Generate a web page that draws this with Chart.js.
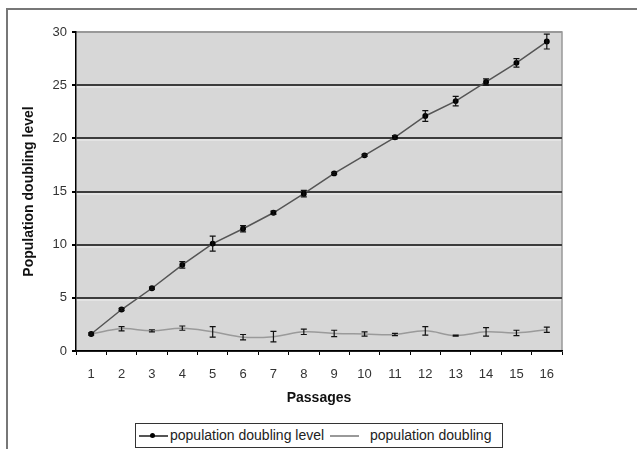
<!DOCTYPE html>
<html>
<head>
<meta charset="utf-8">
<script src="https://cdn.jsdelivr.net/npm/chart.js@4.4.0/dist/chart.umd.min.js"></script>
<style>
body { margin: 0; background: #fff; font-family: "Liberation Sans", Arial, sans-serif; }
#wrap { position: relative; width: 637px; height: 449px; overflow: hidden; background: #fff; }
#frame { position: absolute; left: 6px; top: 8px; width: 660px; height: 470px; border: 2px solid #777; box-sizing: border-box; }
canvas { position: absolute; left: 0; top: 0; }
#legend { position: absolute; left: 135px; top: 423px; width: 368px; height: 25px; border: 1.5px solid #333; box-sizing: border-box; font-size: 14px; color: #222; background: #fff; }
#legend .ln { position: absolute; top: 11px; height: 1.5px; width: 29px; }
#legend .dot { position: absolute; top: 9px; width: 5px; height: 5px; border-radius: 50%; background: #000; }
#legend .tx { position: absolute; top: 3px; white-space: nowrap; }
</style>
</head>
<body>
<div id="wrap">
  <div id="frame"></div>
  <canvas id="chart" width="637" height="449"></canvas>
  <div id="legend">
    <span class="ln" style="left:3px;background:#555"></span>
    <span class="dot" style="left:14px"></span>
    <span class="tx" style="left:34px">population doubling level</span>
    <span class="ln" style="left:194px;background:#999"></span>
    <span class="tx" style="left:234px">population doubling</span>
  </div>
</div>
<script>
// passages (x axis)
var passages = ['1', '2', '3', '4', '5', '6', '7', '8', '9', '10', '11', '12', '13', '14', '15', '16'];

// cumulative population doubling level + error
var doublingLevel = [1.6, 3.9, 5.9, 8.1, 10.1, 11.5, 13.0, 14.8, 16.7, 18.4, 20.1, 22.1, 23.5, 25.3, 27.1, 29.1];
var doublingLevelErr = [0.1, 0.1, 0.1, 0.3, 0.7, 0.3, 0.15, 0.3, 0.1, 0.1, 0.15, 0.5, 0.45, 0.3, 0.4, 0.7];

// population doubling per passage + error
var doubling = [1.6, 2.1, 1.9, 2.15, 1.8, 1.3, 1.35, 1.8, 1.65, 1.6, 1.55, 1.9, 1.45, 1.8, 1.7, 2.0];
var doublingErr = [0, 0.2, 0.1, 0.2, 0.5, 0.25, 0.5, 0.25, 0.3, 0.2, 0.1, 0.4, 0.05, 0.4, 0.25, 0.25];

var yTicks = [0, 5, 10, 15, 20, 25, 30];

// grey plot area like the excel chart
var plotBg = {
    id: 'plotBg',
    beforeDraw: function(chart) {
        var ctx = chart.ctx, a = chart.chartArea, y = chart.scales.y;
        ctx.save();
        ctx.fillStyle = '#d7d7d7';
        ctx.fillRect(a.left, a.top, a.right - a.left, a.bottom - a.top);
        // light line under each grid line
        ctx.strokeStyle = '#f0f0f0';
        ctx.lineWidth = 1;
        yTicks.forEach(function(v) {
            if (v === 0 || v === 30) return;
            var py = Math.round(y.getPixelForValue(v)) + 2;
            ctx.beginPath();
            ctx.moveTo(a.left, py);
            ctx.lineTo(a.right, py);
            ctx.stroke();
        });
        ctx.strokeStyle = '#999';
        ctx.lineWidth = 1.5;
        ctx.beginPath();
        ctx.moveTo(a.left, a.top);
        ctx.lineTo(a.right, a.top);
        ctx.lineTo(a.right, a.bottom);
        ctx.stroke();
        ctx.restore();
    }
};

// error bars drawn from the arrays through the scales
var errorBars = {
    id: 'errorBars',
    afterDatasetsDraw: function(chart) {
        var ctx = chart.ctx, x = chart.scales.x, y = chart.scales.y;
        var sets = [[doublingLevel, doublingLevelErr], [doubling, doublingErr]];
        ctx.save();
        ctx.strokeStyle = '#111';
        ctx.lineWidth = 1.2;
        sets.forEach(function(s) {
            s[0].forEach(function(v, i) {
                var e = s[1][i];
                if (!e) return;
                var px = x.getPixelForValue(i);
                var y1 = y.getPixelForValue(v - e), y2 = y.getPixelForValue(v + e);
                ctx.beginPath();
                ctx.moveTo(px, y1); ctx.lineTo(px, y2);
                ctx.moveTo(px - 3, y1); ctx.lineTo(px + 3, y1);
                ctx.moveTo(px - 3, y2); ctx.lineTo(px + 3, y2);
                ctx.stroke();
            });
        });
        ctx.restore();
    }
};

var ctx = document.getElementById('chart').getContext('2d');
new Chart(ctx, {
    type: 'line',
    data: {
        labels: passages,
        datasets: [{
            label: 'population doubling level',
            data: doublingLevel,
            borderColor: '#555',
            borderWidth: 1.5,
            pointBackgroundColor: '#000',
            pointBorderColor: '#000',
            pointRadius: 2.2,
            pointStyle: 'circle',
            tension: 0
        }, {
            label: 'population doubling',
            data: doubling,
            borderColor: '#9a9a9a',
            borderWidth: 1.5,
            pointRadius: 0,
            tension: 0.4
        }]
    },
    options: {
        responsive: false,
        devicePixelRatio: 1,
        animation: false,
        layout: { padding: { left: 0, right: 75, top: 32, bottom: 0 } },
        plugins: {
            legend: { display: false },
            tooltip: { enabled: false }
        },
        scales: {
            x: {
                offset: true,
                grid: { offset: true, drawOnChartArea: false, drawTicks: true, tickLength: 4, color: '#000' },
                border: { color: '#000', width: 1.5 },
                ticks: { color: '#333', font: { family: 'Liberation Sans', size: 13 }, padding: 12, maxRotation: 0 },
                title: { display: true, text: 'Passages', color: '#111', font: { family: 'Liberation Sans', size: 14, weight: 'bold' }, padding: { top: 0, bottom: 42 } },
                afterFit: function(scale) { scale.height = 98; }
            },
            y: {
                min: 0,
                max: 30,
                afterBuildTicks: function(scale) {
                    scale.ticks = yTicks.map(function(v) { return { value: v }; });
                },
                grid: {
                    tickLength: 4,
                    lineWidth: 2,
                    color: function(c) { return c.tick && c.tick.value === 30 ? '#999' : '#3c3c3c'; },
                    tickColor: '#000'
                },
                border: { color: '#000', width: 1.5 },
                ticks: { color: '#333', font: { family: 'Liberation Sans', size: 13 }, padding: 5 },
                title: { display: true, text: 'Population doubling level', color: '#111', font: { family: 'Liberation Sans', size: 14, weight: 'bold' }, padding: { top: 21, bottom: 0 } },
                afterFit: function(scale) { scale.width = 76; }
            }
        }
    },
    plugins: [plotBg, errorBars]
});
</script>
</body>
</html>
